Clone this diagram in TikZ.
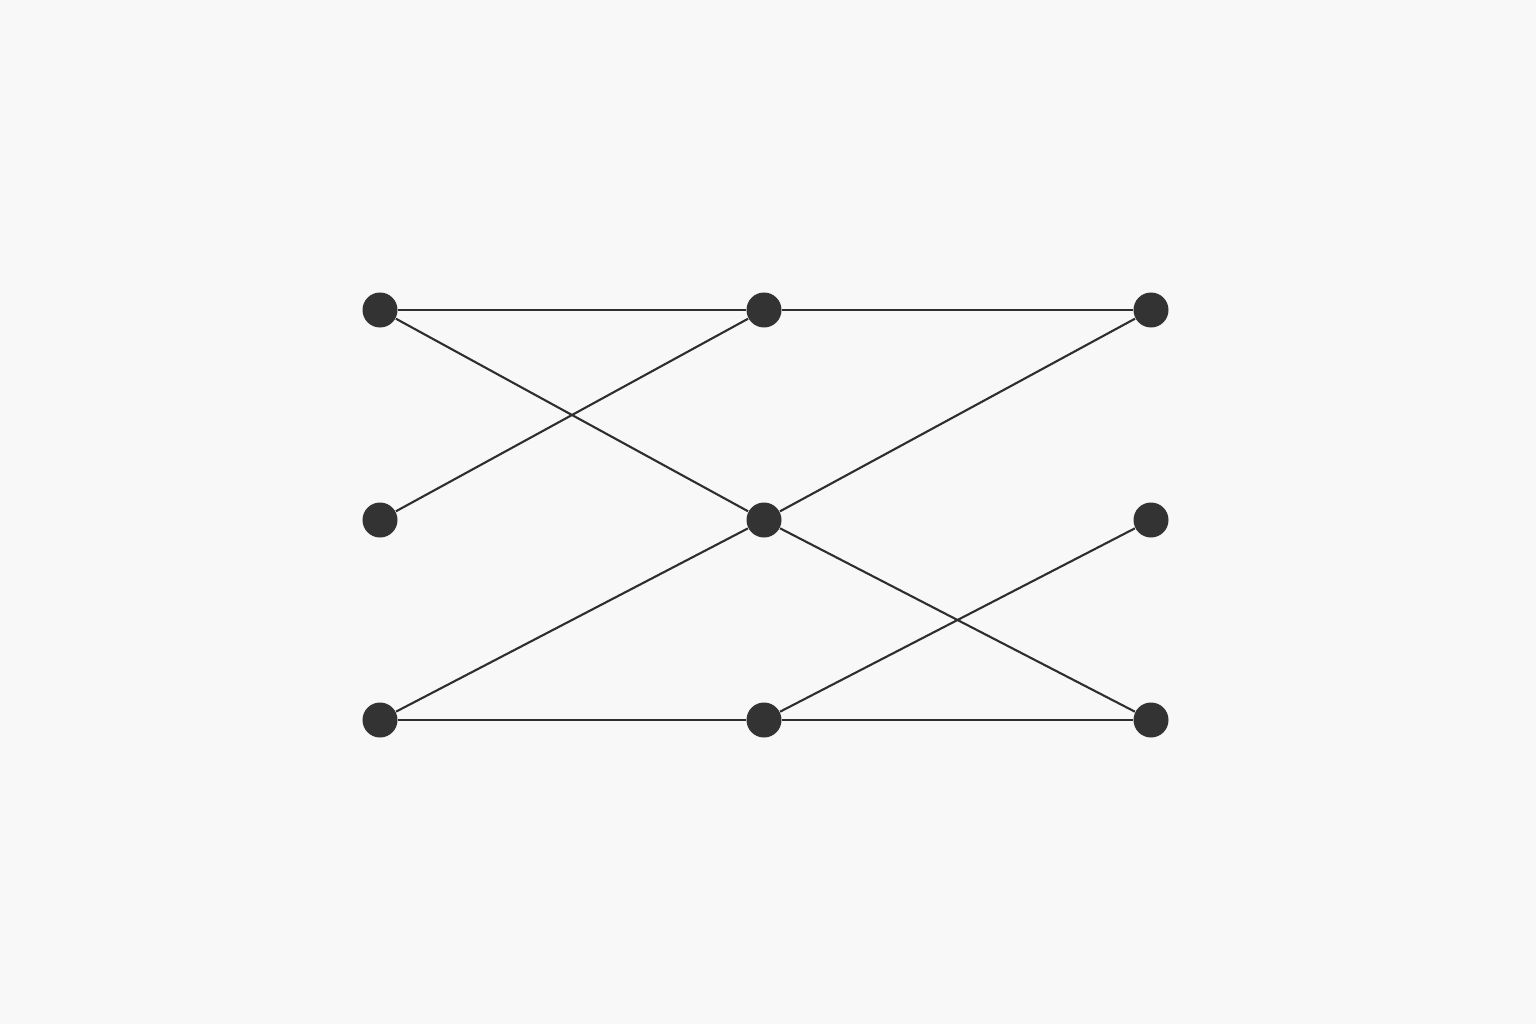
\documentclass[tikz,border=0pt]{standalone}
\usepackage{tikz}
\definecolor{dotgray}{HTML}{333333}
\definecolor{wiregray}{HTML}{2E2E2E}
\definecolor{paper}{HTML}{F8F8F8}

\begin{document}
\begin{tikzpicture}[
    dot/.style={circle, fill=dotgray, inner sep=0pt, minimum size=0.35cm},
    wire/.style={draw=wiregray, line width=0.6pt}]
    \fill[paper] (0,0) rectangle (15.36,10.24);
    \useasboundingbox (0,0) rectangle (15.36,10.24);
    \foreach \c/\x in {1/3.80,2/7.64,3/11.51} {
        \foreach \r/\y in {1/7.14,2/5.04,3/3.04} {
            \node[dot] (n\c\r) at (\x,\y) {};
        }
    }
    \foreach \a/\b in {n11/n21, n21/n31, n11/n22, n12/n21, n22/n31,
                       n13/n22, n22/n33, n13/n23, n23/n33, n23/n32} {
        \draw[wire] (\a) -- (\b);
    }
\end{tikzpicture}
\end{document}
